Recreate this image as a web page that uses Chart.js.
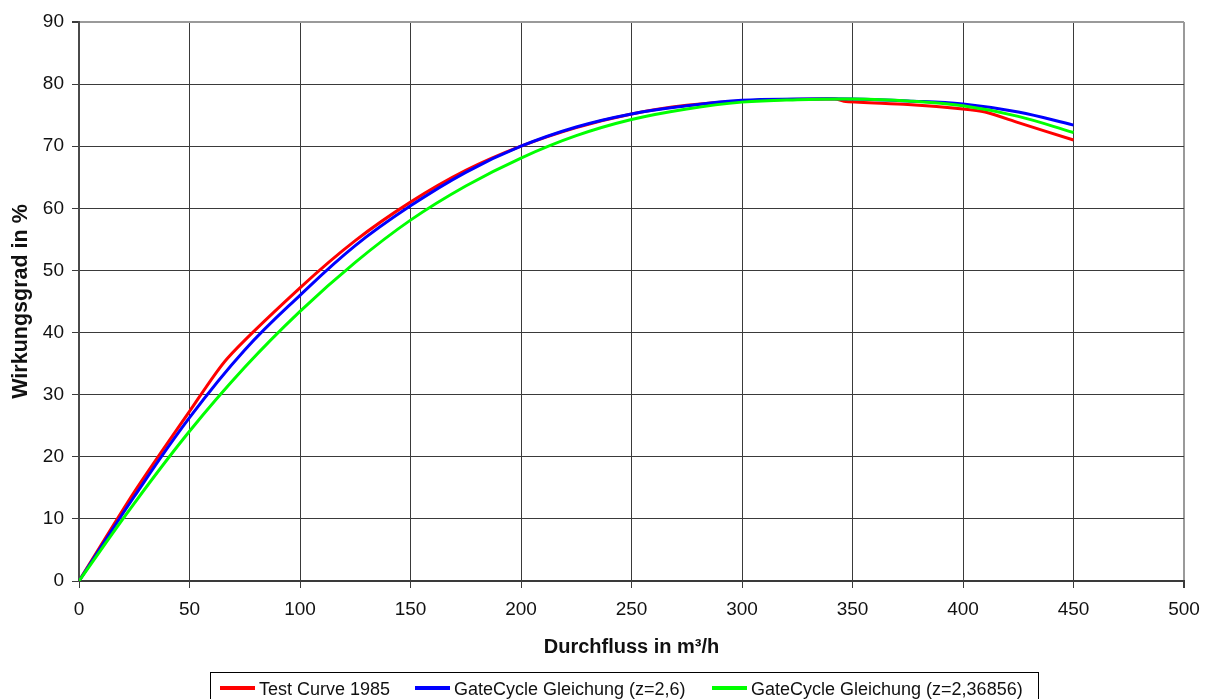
<!DOCTYPE html>
<html>
<head>
<meta charset="utf-8">
<script src="https://cdn.jsdelivr.net/npm/chart.js@4/dist/chart.umd.min.js"></script>
<style>
    html, body { margin: 0; padding: 0; background: #fff; }
    #wrap { position: relative; width: 1210px; height: 699px; overflow: hidden; }
    #legend {
        position: absolute; left: 210px; top: 672px; width: 829px; height: 40px;
        border: 1px solid #000; box-sizing: border-box;
        font-family: "Liberation Sans", Arial, sans-serif; font-size: 18px; color: #111;
    }
    .item { position: absolute; top: 6px; white-space: nowrap; }
    .swatch { display: inline-block; width: 35px; height: 4px; margin-right: 4px; vertical-align: middle; position: relative; top: -2px; }
</style>
</head>
<body>
<div id="wrap">
    <canvas id="effChart" width="1210" height="699"></canvas>
    <div id="legend"></div>
</div>
<script>
// Durchfluss (m³/h) und Wirkungsgrad (%) je Kurve
var flowTest = [0, 25, 50, 67, 100, 125, 150, 175, 200, 225, 250, 275, 300, 342, 347, 375, 400, 410, 425, 450];
var effTest  = [0, 14.3, 27.3, 35.8, 47.2, 54.8, 61.0, 66.1, 70.0, 73.0, 75.2, 76.6, 77.3, 77.6, 77.2, 76.7, 76.0, 75.5, 73.8, 71.0];

var flowGc26 = [0, 25, 50, 75, 100, 125, 150, 175, 200, 225, 250, 275, 300, 325, 350, 375, 400, 425, 450];
var effGc26  = [0, 13.6, 26.3, 37.2, 46.0, 54.0, 60.4, 65.8, 70.0, 73.1, 75.2, 76.5, 77.4, 77.6, 77.6, 77.3, 76.8, 75.5, 73.4];

var flowGc23 = [0, 25, 50, 75, 100, 125, 150, 175, 200, 225, 250, 275, 300, 325, 350, 375, 400, 425, 450];
var effGc23  = [0, 12.5, 24.1, 34.4, 43.4, 51.3, 58.1, 63.6, 68.1, 71.7, 74.3, 76.0, 77.1, 77.5, 77.6, 77.3, 76.5, 74.8, 72.2];

var seriesNames  = ["Test Curve 1985", "GateCycle Gleichung (z=2,6)", "GateCycle Gleichung (z=2,36856)"];
var seriesColors = ["#ff0000", "#0000ff", "#00ff00"];
var legendLeft   = [9, 204, 501];

function toPoints(xs, ys) {
    return xs.map(function (x, i) { return { x: x, y: ys[i] }; });
}

var fontFamily = '"Liberation Sans", Arial, sans-serif';

function makeDataset(i, xs, ys, tension) {
    return {
        label: seriesNames[i],
        data: toPoints(xs, ys),
        borderColor: seriesColors[i],
        backgroundColor: seriesColors[i],
        borderWidth: 3,
        pointRadius: 0,
        tension: tension,
        fill: false
    };
}

// Green first so blue and red sit on top
var datasets = [
    makeDataset(2, flowGc23, effGc23, 0.4),
    makeDataset(1, flowGc26, effGc26, 0.4),
    makeDataset(0, flowTest, effTest, 0.25)
];

function frameColor(ctx, last) {
    return ctx.tick && ctx.tick.value === last ? "#9a9a9a" : "#3a3a3a";
}

new Chart(document.getElementById("effChart").getContext("2d"), {
    type: "line",
    data: { datasets: datasets },
    options: {
        responsive: false,
        animation: false,
        layout: { padding: { top: 22, right: 26, bottom: 40, left: 0 } },
        plugins: { legend: { display: false }, tooltip: { enabled: false } },
        scales: {
            x: {
                type: "linear",
                min: 0, max: 500,
                ticks: { stepSize: 50, color: "#111", padding: 10, font: { family: fontFamily, size: 19 } },
                grid: {
                    color: function (ctx) { return frameColor(ctx, 500); },
                    lineWidth: function (ctx) { return ctx.tick && ctx.tick.value === 500 ? 2 : 1; },
                    tickLength: 7,
                    tickColor: "#3a3a3a"
                },
                border: { color: "#3a3a3a", width: 2 },
                title: { display: true, text: "Durchfluss in m³/h", color: "#111", padding: { top: 4, bottom: 0 }, font: { family: fontFamily, size: 20, weight: "bold" } },
                afterFit: function (scale) { scale.height = 78; }
            },
            y: {
                min: 0, max: 90,
                ticks: { stepSize: 10, color: "#111", padding: 8, font: { family: fontFamily, size: 19 } },
                grid: {
                    color: function (ctx) { return frameColor(ctx, 90); },
                    lineWidth: function (ctx) { return ctx.tick && ctx.tick.value === 90 ? 2 : 1; },
                    tickLength: 7,
                    tickColor: "#3a3a3a"
                },
                border: { color: "#4a4a4a", width: 2 },
                title: { display: true, text: "Wirkungsgrad in %", color: "#111", padding: { top: 8, bottom: 4 }, font: { family: fontFamily, size: 21.5, weight: "bold" } },
                afterFit: function (scale) { scale.width = 79; }
            }
        }
    }
});

// Legend below the chart
var legend = document.getElementById("legend");
seriesNames.forEach(function (name, i) {
    var item = document.createElement("span");
    item.className = "item";
    item.style.left = legendLeft[i] + "px";
    var swatch = document.createElement("span");
    swatch.className = "swatch";
    swatch.style.background = seriesColors[i];
    item.appendChild(swatch);
    item.appendChild(document.createTextNode(name));
    legend.appendChild(item);
});
</script>
</body>
</html>
